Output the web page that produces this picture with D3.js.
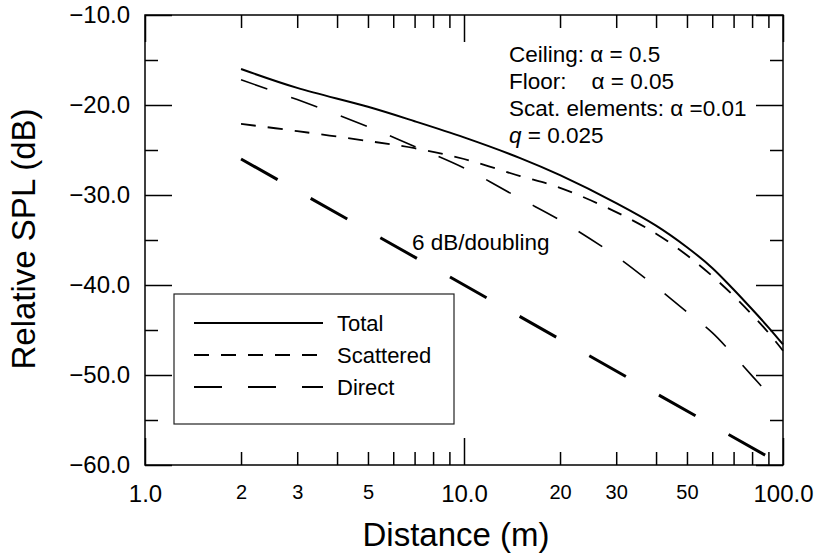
<!DOCTYPE html>
<html>
<head>
<meta charset="utf-8">
<script src="https://cdn.jsdelivr.net/npm/d3@7"></script>
<style>
  body { margin: 0; background: #fff; }
  svg { display: block; font-family: "Liberation Sans", Arial, Helvetica, sans-serif; }
</style>
</head>
<body>
<svg id="chart"></svg>
<script>
// data
const distance = [2, 3, 5, 7, 10, 15, 20, 30, 40, 50, 60, 70, 80, 90, 100];
const totalSPL = [-16.0, -18.1, -20.2, -21.8, -23.6, -25.9, -27.8, -30.9, -33.4, -35.8, -38.1, -40.5, -42.7, -44.7, -46.6];
const scatteredSPL = [-22.1, -22.9, -24.0, -24.8, -26.0, -27.9, -29.2, -31.9, -34.3, -36.7, -39.0, -41.2, -43.3, -45.3, -47.3];
const directDist = [2, 3, 5, 7, 10, 15, 20, 30, 40, 50, 60, 70, 80, 90];
const directSPL = [-17.2, -19.4, -22.4, -24.6, -27.0, -30.4, -32.8, -36.8, -40.2, -43.0, -45.3, -47.8, -50.1, -52.1];
const doublingDist = [2, 92];
const doublingSPL = [-26.0, -59.3];

const xMajor = [1, 10, 100];
const xMinor = [2, 3, 4, 5, 6, 7, 8, 9, 20, 30, 40, 50, 60, 70, 80, 90];
const xMinorLabels = [2, 3, 5, 20, 30, 50];
const yMajor = [-10, -20, -30, -40, -50, -60];
const yMinor = [-15, -25, -35, -45, -55];

const legendLabels = ['Total', 'Scattered', 'Direct'];
const noteLines = ['Ceiling: α = 0.5', 'Floor:    α = 0.05', 'Scat. elements: α =0.01', 'q = 0.025'];

// window constants
const width = 818;
const height = 554;
const plotL = 145, plotR = 783, plotT = 15, plotB = 465;

const svg = d3.select('#chart')
    .attr('width', width)
    .attr('height', height);

const x = d3.scaleLog().domain([1, 100]).range([plotL, plotR]);
const y = d3.scaleLinear().domain([-60, -10]).range([plotB, plotT]);

// ticks: all inward, on all four sides
function drawAxis(axis, transform, fontSize, pad) {
    const g = svg.append('g')
        .attr('transform', transform)
        .call(axis.tickPadding(pad));
    g.select('.domain').remove();
    g.selectAll('.tick line').attr('stroke', '#000').attr('stroke-width', 1.5);
    g.selectAll('.tick text')
        .attr('fill', '#000')
        .style('font-family', '"Liberation Sans", Arial, sans-serif')
        .style('font-size', fontSize + 'px');
    return g;
}

drawAxis(d3.axisBottom(x).tickValues(xMajor).tickSize(-27).tickFormat(d3.format('.1f')),
    `translate(0,${plotB})`, 24, 20);
drawAxis(d3.axisBottom(x).tickValues(xMinor).tickSize(-13)
    .tickFormat(d => xMinorLabels.includes(d) ? d : ''),
    `translate(0,${plotB})`, 20, 20);
drawAxis(d3.axisTop(x).tickValues(xMajor).tickSize(-27).tickFormat(''), `translate(0,${plotT})`, 0, 0);
drawAxis(d3.axisTop(x).tickValues(xMinor).tickSize(-13).tickFormat(''), `translate(0,${plotT})`, 0, 0);

drawAxis(d3.axisLeft(y).tickValues(yMajor).tickSize(-27).tickFormat(d3.format('.1f')),
    `translate(${plotL},0)`, 24, 15);
drawAxis(d3.axisLeft(y).tickValues(yMinor).tickSize(-13).tickFormat(''), `translate(${plotL},0)`, 0, 0);
drawAxis(d3.axisRight(y).tickValues(yMajor).tickSize(-27).tickFormat(''), `translate(${plotR},0)`, 0, 0);
drawAxis(d3.axisRight(y).tickValues(yMinor).tickSize(-13).tickFormat(''), `translate(${plotR},0)`, 0, 0);

svg.append('rect')
    .attr('x', plotL).attr('y', plotT)
    .attr('width', plotR - plotL).attr('height', plotB - plotT)
    .attr('fill', 'none').attr('stroke', '#000').attr('stroke-width', 1.5);

// curves
const line = d3.line()
    .x(d => x(d[0]))
    .y(d => y(d[1]))
    .curve(d3.curveCatmullRom.alpha(0.5));

const series = [
    { values: totalSPL, dist: distance, w: 2, dash: null },
    { values: scatteredSPL, dist: distance, w: 1.8, dash: '15,12' },
    { values: directSPL, dist: directDist, w: 1.6, dash: '28,25' },
    { values: doublingSPL, dist: doublingDist, w: 3, dash: '42,38' },
];

svg.append('g')
    .selectAll('path')
    .data(series)
    .enter()
    .append('path')
        .attr('d', s => line(s.dist.map((d, i) => [d, s.values[i]])))
        .attr('fill', 'none')
        .attr('stroke', '#000')
        .attr('stroke-width', s => s.w)
        .attr('stroke-dasharray', s => s.dash);

// notes
noteLines.forEach((t, i) => {
    const txt = svg.append('text')
        .attr('x', 509).attr('y', 62 + i * 27)
        .style('font-size', '22.5px')
        .style('white-space', 'pre');
    if (t.startsWith('q')) {
        txt.append('tspan').style('font-style', 'italic').text('q');
        txt.append('tspan').text(t.slice(1));
    } else {
        txt.text(t);
    }
});

svg.append('text')
    .attr('x', 412).attr('y', 250)
    .style('font-size', '22.5px')
    .text('6 dB/doubling');

// legend
const legend = svg.append('g');
legend.append('rect')
    .attr('x', 174).attr('y', 294)
    .attr('width', 280).attr('height', 130)
    .attr('fill', 'none').attr('stroke', '#222').attr('stroke-width', 1.2);

const legendDash = [null, '15,12', '28,26'];
legendLabels.forEach((lab, i) => {
    const ly = 323 + i * 32;
    legend.append('line')
        .attr('x1', 194).attr('x2', 323)
        .attr('y1', ly).attr('y2', ly)
        .attr('stroke', '#000').attr('stroke-width', 2)
        .attr('stroke-dasharray', legendDash[i]);
    legend.append('text')
        .attr('x', 337).attr('y', ly + 8)
        .style('font-size', '22px')
        .text(lab);
});

// axis titles
svg.append('text')
    .attr('x', 456).attr('y', 546)
    .attr('text-anchor', 'middle')
    .style('font-size', '33px')
    .text('Distance (m)');

svg.append('text')
    .attr('transform', 'translate(35,239) rotate(-90)')
    .attr('text-anchor', 'middle')
    .style('font-size', '33px')
    .text('Relative SPL (dB)');
</script>
</body>
</html>
